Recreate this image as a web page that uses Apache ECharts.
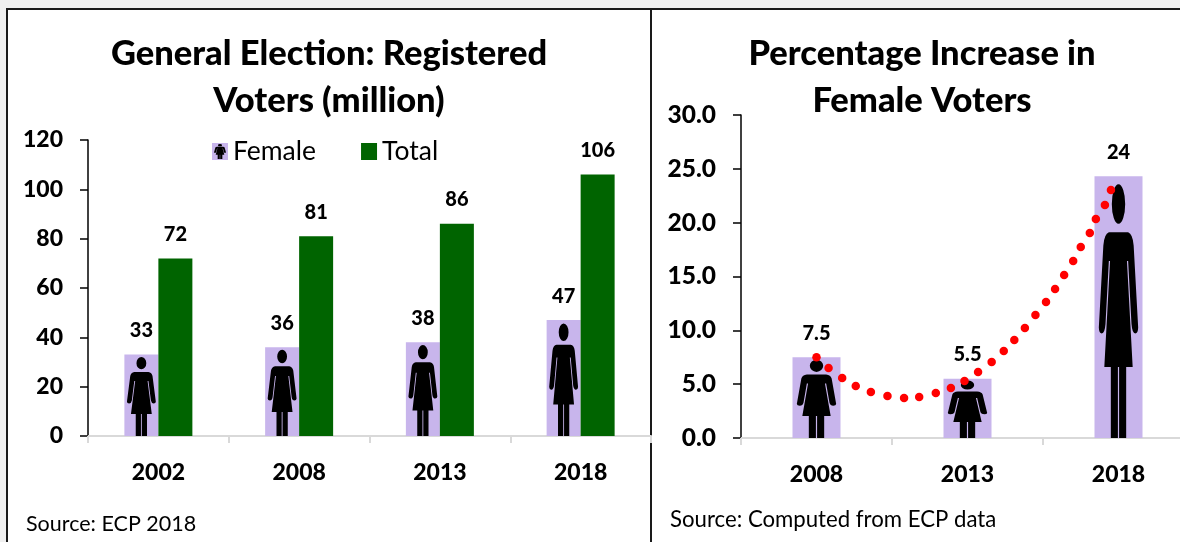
<!DOCTYPE html>
<html>
<head>
<meta charset="utf-8">
<style>
  html, body { margin: 0; height: 100%; background: #f0f0f0; }
  #chart { width: 1180px; height: 542px; }
</style>
</head>
<body>
<div id="chart"></div>
<script src="https://cdn.jsdelivr.net/npm/echarts@6/dist/echarts.min.js"></script>
<script>
const voterYears = ['2002', '2008', '2013', '2018']
const femaleVoters = [33, 36, 38, 47]
const totalVoters = [72, 81, 86, 106]

const increaseYears = ['2008', '2013', '2018']
const femaleIncrease = [7.5, 5.5, 24.3]
const increaseLabels = ['7.5', '5.5', '24']

// red dots of the trend (0 = 2008, 1 = 2013, 2 = 2018)
const trendPositions = [0, 0.08, 0.17, 0.26, 0.36, 0.47, 0.58, 0.68, 0.79, 0.89, 0.98, 1.07, 1.16, 1.24, 1.31, 1.38, 1.45, 1.52, 1.58, 1.64, 1.70, 1.75, 1.81, 1.85, 1.91, 1.95]
const trendValues = [7.5, 6.5, 5.57, 4.83, 4.27, 3.9, 3.72, 3.81, 4.18, 4.64, 5.29, 6.13, 7.06, 8.08, 9.1, 10.22, 11.42, 12.63, 13.84, 15.14, 16.44, 17.74, 19.04, 20.34, 21.64, 23.03]

const purple = '#c8b5ec'
const green = '#006400'
const fontFamily = 'Lato, "Open Sans", sans-serif'

const figure = 'M51 189L149 189Q172 195 177 241L200 565Q199 588 185 588Q170 588 166 551L149 303L143 303L172 720L139 720L139 1000L103 1000L103 720L97 720L97 1000L61 1000L61 720L28 720L57 303L51 303L34 551Q30 588 15 588Q1 588 0 565L23 241Q28 195 51 189Z' +
  'M100 0A34 78 0 1 1 100 156A34 78 0 1 1 100 0Z'

const legendIcon = 'image://data:image/svg+xml,' + encodeURIComponent(
  `<svg xmlns="http://www.w3.org/2000/svg" width="16" height="17" viewBox="0 0 16 17"><rect width="16" height="17" fill="${purple}"/><path transform="translate(2 1) scale(.06 .015)" d="${figure}"/></svg>`
)

const barLabel = {
  show: true,
  position: 'top',
  distance: 14,
  color: '#000',
  fontFamily,
  fontWeight: 900,
  fontSize: 20
}

const valueAxis = {
  type: 'value',
  min: 0,
  axisLine: { show: true, onZero: false, lineStyle: { color: '#000', width: 1.5 } },
  axisTick: { show: true, length: 8, lineStyle: { color: '#000', width: 1.5 } },
  splitLine: { show: false },
  axisLabel: { color: '#000', fontFamily, fontWeight: 900, fontSize: 23, margin: 25 }
}

const categoryAxis = {
  type: 'category',
  axisLine: { lineStyle: { color: '#d9d9d9', width: 2 } },
  axisTick: { show: true, length: 7, lineStyle: { color: '#d9d9d9', width: 2 } },
  axisLabel: { color: '#000', fontFamily, fontWeight: 900, fontSize: 23, margin: 25 }
}

const titleStyle = { color: '#000', fontFamily, fontWeight: 900, fontSize: 34.5, lineHeight: 47 }

const frameLine = (x, y, width, height) => ({
  type: 'rect',
  silent: true,
  z: -9,
  shape: { x, y, width, height },
  style: { fill: '#1a1a1a' }
})

const chart = echarts.init(document.getElementById('chart'))
chart.setOption({
  animation: false,
  title: [
    {
      text: 'General Election: Registered\nVoters (million)',
      left: 324,
      top: 25,
      textAlign: 'center',
      textStyle: titleStyle
    },
    {
      text: 'Percentage Increase in\nFemale Voters',
      left: 917,
      top: 25,
      textAlign: 'center',
      textStyle: titleStyle
    },
    {
      text: 'Source: ECP 2018',
      left: 26,
      top: 513,
      padding: 0,
      textStyle: { color: '#000', fontFamily, fontWeight: 'normal', fontSize: 21.5 }
    },
    {
      text: 'Source: Computed from ECP data',
      left: 670,
      top: 509,
      padding: 0,
      textStyle: { color: '#000', fontFamily, fontWeight: 'normal', fontSize: 22.2 }
    }
  ],
  legend: {
    left: 212,
    top: 138,
    padding: 0,
    itemWidth: 16,
    itemHeight: 17,
    itemGap: 45,
    textStyle: { color: '#000', fontFamily, fontSize: 26.5 },
    data: [{ name: 'Female', icon: legendIcon }, { name: 'Total', icon: 'rect' }]
  },
  graphic: [
    { type: 'rect', silent: true, z: -10, shape: { x: 7, y: 9, width: 1173, height: 533 }, style: { fill: '#fff' } },
    frameLine(6, 8, 1174, 2),
    frameLine(6, 8, 2, 534),
    frameLine(650, 8, 2, 534)
  ],
  grid: [
    { left: 88, top: 140, width: 563, height: 296, outerBoundsMode: 'none' },
    { left: 741, top: 115, width: 453, height: 323, outerBoundsMode: 'none' }
  ],
  xAxis: [
    { ...categoryAxis, gridIndex: 0, data: voterYears },
    { ...categoryAxis, gridIndex: 1, data: increaseYears },
    { type: 'value', gridIndex: 1, show: false, min: -0.5, max: 2.5 }
  ],
  yAxis: [
    { ...valueAxis, gridIndex: 0, max: 120, interval: 20 },
    {
      ...valueAxis,
      gridIndex: 1,
      max: 30,
      interval: 5,
      axisLabel: { ...valueAxis.axisLabel, fontSize: 24.5, formatter: v => v.toFixed(1) }
    }
  ],
  series: [
    {
      name: 'Female',
      type: 'bar',
      barWidth: 34,
      barGap: 0,
      itemStyle: { color: purple },
      label: barLabel,
      data: femaleVoters
    },
    {
      name: 'Total',
      type: 'bar',
      barWidth: 34,
      barGap: 0,
      itemStyle: { color: green },
      label: barLabel,
      data: totalVoters
    },
    {
      name: 'Female figure',
      type: 'pictorialBar',
      barWidth: 34,
      symbol: 'path://' + figure,
      symbolPosition: 'start',
      symbolSize: ['85%', '97%'],
      symbolOffset: [-17, 0],
      itemStyle: { color: '#000' },
      z: 3,
      data: femaleVoters
    },
    {
      name: 'Female increase',
      type: 'bar',
      xAxisIndex: 1,
      yAxisIndex: 1,
      barWidth: 48,
      itemStyle: { color: purple },
      label: { ...barLabel, formatter: p => increaseLabels[p.dataIndex] },
      data: femaleIncrease
    },
    {
      name: 'Female increase figure',
      type: 'pictorialBar',
      xAxisIndex: 1,
      yAxisIndex: 1,
      barWidth: 48,
      symbol: 'path://' + figure,
      symbolPosition: 'start',
      symbolSize: ['82%', '97%'],
      itemStyle: { color: '#000' },
      z: 3,
      data: femaleIncrease
    },
    {
      name: 'Trend',
      type: 'scatter',
      xAxisIndex: 2,
      yAxisIndex: 1,
      symbolSize: 8.5,
      itemStyle: { color: '#ff0000', opacity: 1 },
      z: 4,
      data: trendPositions.map((pos, i) => [pos, trendValues[i]])
    }
  ]
})
</script>
</body>
</html>
